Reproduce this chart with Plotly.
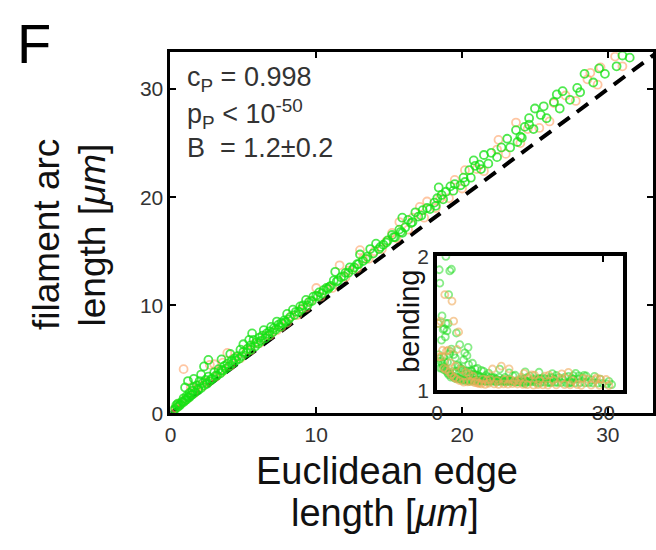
import plotly.graph_objects as go

# Edge length (Euclidean) vs. filament arc length, two samples
green_edge = [0.2, 0.4, 0.5, 0.6, 0.8, 0.9, 1.0, 1.1, 1.2, 1.3, 1.4, 1.5, 1.0, 1.2, 1.6, 1.6, 1.8, 1.9,
              2.0, 2.1, 2.2, 2.3, 2.4, 2.6, 2.6, 2.8, 3.0, 3.1, 3.3, 3.5, 3.5, 3.7, 3.9, 4.1, 4.2, 4.4,
              4.6, 4.8, 5.0, 5.0, 5.3, 5.4, 5.5, 5.6, 5.7, 5.9, 6.1, 6.3, 6.4, 6.6, 6.8, 6.9, 7.1, 7.3,
              7.4, 7.6, 7.8, 8.0, 8.2, 8.4, 8.6, 8.9, 9.1, 9.3, 9.5, 9.8, 10.0, 10.2, 10.5, 10.7, 10.9,
              11.2, 11.3, 11.4, 11.7, 12.0, 12.3, 12.5, 12.8, 13.0, 13.2, 13.5, 13.7, 14.1, 14.3, 14.6,
              14.9, 15.2, 15.4, 15.7, 15.9, 15.9, 16.3, 16.5, 16.8, 17.0, 17.3, 17.6, 18.1, 18.2, 18.3,
              18.4, 18.6, 18.9, 19.2, 19.5, 20.1, 20.2, 20.5, 20.8, 20.9, 21.2, 21.5, 22.0, 22.7, 23.1,
              23.7, 23.8, 24.0, 24.3, 24.6, 24.6, 25.0, 25.4, 25.6, 26.3, 26.5, 26.9, 27.9, 28.4, 29.4,
              31.0,
              0.3, 0.5, 0.7, 0.9, 1.1, 1.3, 1.5, 1.7, 1.9, 2.1, 2.3, 2.5, 2.7, 2.9, 3.2, 3.4, 3.6, 3.8,
              4.0, 4.3, 4.5, 4.7, 4.9, 5.2, 5.5, 5.8, 6.0, 6.2, 6.5, 6.7, 7.0, 7.2, 7.5, 7.7, 7.9, 8.1,
              8.5, 8.8, 9.0, 9.4, 9.7, 10.1, 10.4, 10.8, 11.0, 11.5, 11.9, 12.2, 12.6, 12.9, 13.4, 13.9,
              14.4, 14.8, 15.3, 15.8, 16.1, 16.6, 17.2, 17.8, 18.7, 19.4, 19.9, 20.6, 21.3, 21.8, 22.4,
              23.3, 24.1, 24.9, 25.8, 26.7, 27.4, 28.1, 29.0, 29.8, 30.6, 31.5]
green_arc = [0.3, 0.76, 0.9, 0.7, 1.1, 1.4, 1.2, 1.6, 1.5, 1.9, 1.7, 2.1, 2.4, 3.0, 2.4, 3.2, 2.6, 2.3,
             3.0, 3.6, 2.8, 4.35, 3.1, 4.95, 3.4, 3.2, 3.8, 3.5, 4.1, 5.0, 4.0, 4.4, 4.6, 5.5, 4.9, 5.1,
             5.3, 5.9, 6.4, 5.7, 6.0, 6.8, 6.3, 7.4, 6.8, 6.6, 7.0, 7.2, 7.7, 7.4, 7.6, 8.0, 7.9, 8.5,
             8.2, 8.4, 8.6, 9.2, 8.9, 9.6, 9.4, 9.9, 10.0, 10.5, 10.3, 10.8, 10.9, 11.2, 11.4, 11.6, 11.7,
             12.3, 13.1, 12.2, 12.6, 13.0, 13.5, 13.3, 13.8, 14.7, 14.1, 14.5, 15.2, 15.7, 15.2, 15.6,
             16.0, 16.5, 16.3, 17.0, 16.7, 18.1, 17.9, 17.6, 18.6, 18.2, 18.8, 19.0, 19.5, 19.2, 19.9,
             20.9, 20.2, 20.5, 21.0, 21.2, 21.8, 21.4, 22.5, 23.4, 22.9, 23.0, 23.9, 24.1, 24.6, 25.4,
             26.2, 25.1, 25.6, 26.5, 27.3, 26.7, 28.2, 27.6, 28.4, 28.8, 29.5, 29.8, 30.1, 31.4, 31.9,
             33.1,
             0.38, 0.62, 0.85, 1.05, 1.3, 1.5, 1.75, 1.95, 2.15, 2.35, 2.6, 2.75, 3.0, 3.2, 3.5, 3.7,
             3.95, 4.15, 4.35, 4.65, 4.9, 5.05, 5.3, 5.6, 5.9, 6.2, 6.45, 6.7, 6.95, 7.2, 7.5, 7.75,
             8.0, 8.3, 8.45, 8.7, 9.1, 9.4, 9.65, 10.0, 10.4, 10.8, 11.1, 11.5, 11.8, 12.3, 12.7, 13.0,
             13.5, 13.8, 14.3, 14.8, 15.4, 15.8, 16.3, 16.8, 17.2, 17.7, 18.3, 18.9, 19.8, 20.6, 21.1,
             21.8, 22.6, 23.1, 23.7, 24.6, 25.5, 26.3, 27.3, 28.2, 29.0, 29.7, 30.6, 31.4, 32.1, 32.9]

orange_edge = [0.3, 0.6, 0.9, 1.0, 1.4, 1.7, 2.0, 2.4, 2.7, 3.0, 3.3, 3.6, 3.9, 4.5, 5.2, 5.8, 6.5, 7.0,
               7.6, 8.3, 9.0, 9.6, 10.0, 10.8, 11.6, 12.2, 13.0, 13.2, 14.0, 14.8, 15.2, 15.7, 16.6,
               17.1, 17.6, 18.5, 19.5, 20.2, 21.0, 22.4, 22.5, 23.7, 24.5, 26.3, 27.1, 28.6, 28.8,
               29.5, 30.5,
               0.4, 0.8, 1.2, 1.6, 2.2, 2.6, 3.1, 3.5, 4.1, 4.8, 5.5, 6.1, 6.8, 7.3, 8.0, 8.7, 9.3,
               10.3, 11.1, 12.0, 12.8, 13.6, 14.5, 15.5, 16.3, 17.4, 18.2, 19.1, 20.0, 21.5, 23.0,
               24.0, 25.3, 26.0, 27.8, 29.3, 31.0]
orange_arc = [0.45, 0.91, 4.1, 1.3, 2.4, 2.2, 2.6, 2.9, 4.5, 4.55, 3.9, 4.7, 5.6, 5.2, 5.9, 6.5, 7.2, 7.5,
              8.0, 9.0, 9.7, 10.4, 11.6, 11.6, 13.7, 13.2, 15.1, 14.3, 15.0, 15.9, 16.7, 17.7, 18.1,
              19.1, 19.6, 19.9, 21.6, 22.5, 22.6, 24.4, 25.3, 26.9, 26.3, 28.7, 29.4, 30.9, 31.5,
              32.0, 33.0,
              0.5, 1.0, 1.4, 1.85, 2.5, 2.9, 3.4, 3.8, 4.4, 5.1, 5.85, 6.5, 7.2, 7.7, 8.4, 9.1, 9.8,
              10.8, 11.6, 12.6, 13.4, 14.3, 15.2, 16.2, 17.0, 18.1, 19.0, 19.9, 20.8, 22.4, 24.0,
              25.0, 26.4, 27.0, 28.9, 30.4, 32.1]

# Bending = arc length / edge length
green_bend = [a / e for a, e in zip(green_arc, green_edge)]
orange_bend = [a / e for a, e in zip(orange_arc, orange_edge)]

x_range = [0, 33.1]
y_range = [0, 33.4]
inset_x_range = [0, 33.6]
inset_y_range = [1, 2]

W, H = 656, 550


def px(x):
    return x / W


def py(y):
    return 1 - y / H


GREEN = "rgba(20,225,20,0.75)"
ORANGE = "rgba(255,160,100,0.6)"
GREEN_IN = "rgba(40,220,40,0.55)"
ORANGE_IN = "rgba(240,170,90,0.6)"
INK = "#333333"
FONT = "Liberation Sans"

fig = go.Figure()

# identity reference line
diag = [0, max(x_range[1], y_range[1]) + 2]
fig.add_trace(go.Scatter(x=diag, y=diag, mode="lines",
                         line=dict(color="black", width=4, dash="14px,9px"),
                         xaxis="x", yaxis="y", showlegend=False, hoverinfo="skip"))

for xs, ys, col, xa, ya, sz in [
    (orange_edge, orange_arc, ORANGE, "x", "y", 8),
    (green_edge, green_arc, GREEN, "x", "y", 8),
    (green_edge, green_bend, GREEN_IN, "x2", "y2", 7),
    (orange_edge, orange_bend, ORANGE_IN, "x2", "y2", 7),
]:
    fig.add_trace(go.Scatter(
        x=xs, y=ys, mode="markers", xaxis=xa, yaxis=ya, showlegend=False,
        marker=dict(symbol="circle-open", size=sz, color=col, line=dict(width=1.8, color=col)),
        cliponaxis=True,
    ))

axis_common = dict(showgrid=False, zeroline=False, showline=True, linecolor="black",
                   mirror="ticks", ticks="inside", tickcolor="black", tickwidth=1.5,
                   tickfont=dict(family=FONT, size=21, color=INK))

fig.update_layout(
    width=W, height=H,
    margin=dict(l=0, r=0, t=0, b=0),
    paper_bgcolor="white", plot_bgcolor="rgba(0,0,0,0)",
    font=dict(family=FONT),
    xaxis=dict(domain=[px(166), px(653)], range=x_range, tickvals=[0, 10, 20, 30],
               linewidth=3, ticklen=6, anchor="y", **axis_common),
    yaxis=dict(domain=[py(419), py(42)], range=y_range, tickvals=[0, 10, 20, 30],
               linewidth=3, ticklen=6, anchor="x", **axis_common),
    xaxis2=dict(domain=[px(435), px(623)], range=inset_x_range, tickvals=[0, 30],
                linewidth=4, ticklen=6, anchor="y2", **axis_common),
    yaxis2=dict(domain=[py(395), py(255)], range=inset_y_range, tickvals=[1, 2],
                linewidth=4, ticklen=6, anchor="x2", **axis_common),
)

annotations = [
    dict(text="F", x=px(28), y=py(33), font=dict(size=56, color="black")),
    dict(text="c<sub>P</sub> = 0.998", x=px(181), y=py(70), xanchor="left",
         font=dict(size=27, color=INK)),
    dict(text="p<sub>P</sub> &lt; 10<sup>-50</sup>", x=px(181), y=py(106), xanchor="left",
         font=dict(size=27, color=INK)),
    dict(text="B  = 1.2±0.2", x=px(181), y=py(142), xanchor="left",
         font=dict(size=27, color=INK)),
    dict(text="Euclidean edge", x=px(385), y=py(479), font=dict(size=38, color="#111111")),
    dict(text="length [<i>μm</i>]", x=px(382), y=py(523), font=dict(size=38, color="#111111")),
    dict(text="filament arc", x=px(41), y=py(232), textangle=-90,
         font=dict(size=37, color="#111111")),
    dict(text="length [<i>μm</i>]", x=px(87), y=py(233), textangle=-90,
         font=dict(size=37, color="#111111")),
    dict(text="bending", x=px(407), y=py(323), textangle=-90,
         font=dict(size=29, color="#111111")),
]
for a in annotations:
    a.setdefault("xanchor", "center")
    fig.add_annotation(xref="paper", yref="paper", showarrow=False, yanchor="middle",
                       font_family=FONT, **a)

fig.write_html("out.html")
